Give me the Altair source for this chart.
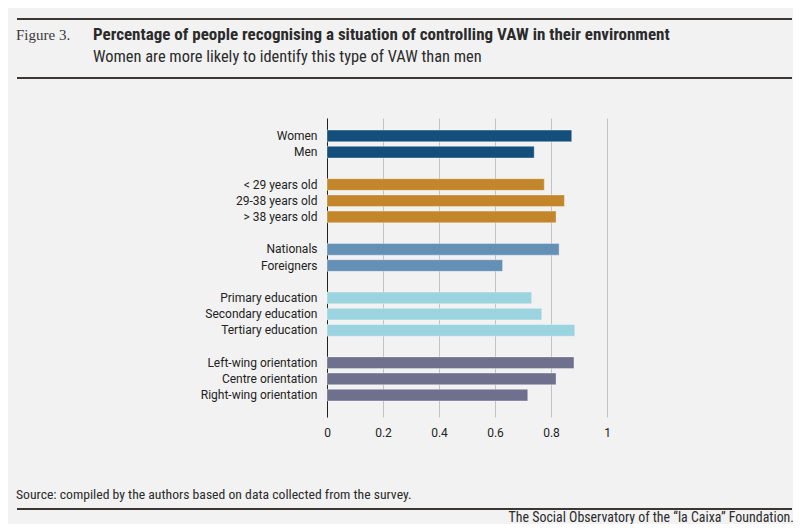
import altair as alt
import pandas as pd

labels = ["Women", "Men",
          "< 29 years old", "29-38 years old", "> 38 years old",
          "Nationals", "Foreigners",
          "Primary education", "Secondary education", "Tertiary education",
          "Left-wing orientation", "Centre orientation", "Right-wing orientation"]
values = [0.874, 0.740,
          0.776, 0.848, 0.818,
          0.829, 0.627,
          0.731, 0.767, 0.885,
          0.882, 0.818, 0.717]
groups = ["Sex", "Sex",
          "Age", "Age", "Age",
          "Nationality", "Nationality",
          "Education", "Education", "Education",
          "Ideology", "Ideology", "Ideology"]
group_names = ["Sex", "Age", "Nationality", "Education", "Ideology"]
group_colors = ["#134f7a", "#c3862a", "#6590b6", "#9bd3de", "#6f6f8e"]
x_ticks = [0, 0.2, 0.4, 0.6, 0.8, 1]

# row order with blank spacer rows between the groups
order = []
spacer = " "
for i, lab in enumerate(labels):
    if i > 0 and groups[i] != groups[i - 1]:
        order.append(spacer)
        spacer += " "
    order.append(lab)

df = pd.DataFrame({"label": labels, "value": values, "group": groups})
one = pd.DataFrame({"k": [0]})

W, H = 280, 299
FONT = "Roboto"
NARROW = "'Roboto Condensed', 'DejaVu Sans Condensed', 'Liberation Sans Narrow', Roboto"

bars = alt.Chart(df).mark_bar(stroke="#ffffff", strokeOpacity=0.35, strokeWidth=1).encode(
    x=alt.X("value:Q",
            scale=alt.Scale(domain=[0, 1], nice=False, zero=True),
            axis=alt.Axis(values=x_ticks, title=None, domain=False, ticks=False,
                          grid=True, gridColor="#c2c2c2", gridWidth=1,
                          labelPadding=10, labelFont=FONT, labelFontSize=12,
                          labelColor="#222222", labelFlush=False,
                          labelExpr="datum.value == 0 ? '0' : datum.value == 1 ? '1' : format(datum.value, '.1f')")),
    y=alt.Y("label:N",
            scale=alt.Scale(domain=order, paddingInner=0.28, paddingOuter=0.87, align=0.43),
            axis=alt.Axis(title=None, domain=True, domainColor="#222222", domainWidth=1,
                          ticks=False, grid=False, labelPadding=10, labelFont=FONT,
                          labelFontSize=12, labelColor="#222222", labelLimit=300)),
    color=alt.Color("group:N", scale=alt.Scale(domain=group_names, range=group_colors), legend=None),
)

def txt(text, x, y, font, size, weight="normal", align="left", color="#2b2b2b"):
    return alt.Chart(one).mark_text(font=font, fontSize=size, fontWeight=weight,
                                    align=align, baseline="alphabetic", color=color).encode(
        x=alt.value(x), y=alt.value(y), text=alt.value(text))

def rule(y, x1, x2, width=2):
    return alt.Chart(one).mark_rule(color="#3a3735", strokeWidth=width).encode(
        x=alt.value(x1), x2=alt.value(x2), y=alt.value(y))

ox, oy = 327, 118
layers = [
    bars,
    rule(19 - oy, 17 - ox, 792 - ox),
    rule(78 - oy, 17 - ox, 792 - ox),
    rule(509 - oy, 17 - ox, 792 - ox),
    txt("Figure 3.", 16 - ox, 40 - oy, "Liberation Serif", 15, color="#3a3a3a"),
    txt("Percentage of people recognising a situation of controlling VAW in their environment",
        93 - ox, 40 - oy, NARROW, 17, weight="bold", color="#2b2b2b"),
    txt("Women are more likely to identify this type of VAW than men",
        93 - ox, 62 - oy, NARROW, 16.4, color="#2b2b2b"),
    txt("Source: compiled by the authors based on data collected from the survey.",
        16 - ox, 499 - oy, NARROW, 13.7, color="#2b2b2b"),
    txt("The Social Observatory of the \u201cla Caixa\u201d Foundation.",
        794 - ox, 522 - oy, NARROW, 13.9, align="right", color="#2b2b2b"),
]

chart = alt.layer(*layers).properties(
    width=W, height=H,
    autosize=alt.AutoSizeParams(type="none"),
    padding={"left": ox - 8, "top": oy - 8, "right": 785 - (ox - 8) - W, "bottom": 516 - (oy - 8) - H},
).configure(background="#f2f2f2").configure_view(stroke=None)

chart.save("out.html", embed_options={"renderer": "svg", "actions": False})
